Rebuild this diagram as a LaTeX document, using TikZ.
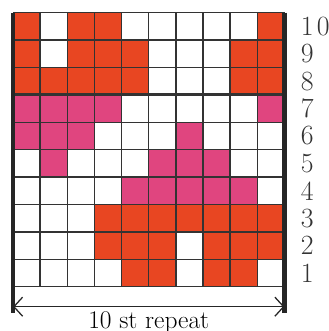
\documentclass[tikz,border=0pt]{standalone}
\usepackage{tikz}
\usepackage{xcolor}
\usetikzlibrary{arrows.meta,positioning}
\definecolor{knitred}{HTML}{E84622}
\definecolor{knitpink}{HTML}{E0457F}
\definecolor{gridgray}{HTML}{333333}

\begin{document}
\begin{tikzpicture}[
      x=0.6cm,y=0.6055cm,
      >={Straight Barb[length=5.5pt,width=12pt]},
      redcell/.style={fill=knitred},
      pinkcell/.style={fill=knitpink},
      gridline/.style={draw=gridgray,line width=0.9pt},
      edgebar/.style={draw=black!85,line width=2.6pt},
      rownum/.style={anchor=west,font=\fontsize{17.5}{19}\selectfont,text=black!80},
      label/.style={font=\fontsize{16}{18}\selectfont,align=center}
    ]
    \useasboundingbox (-0.479,-1.617) rectangle (11.639,10.464);

    \foreach \r/\cols in {10/{1,3,4,10},9/{1,3,4,5,9,10},8/{1,2,3,4,5,9,10},
                          3/{4,5,6,7,8,9,10},2/{4,5,6,8,9,10},1/{5,6,8,9}}
      \foreach \c in \cols
        \fill[redcell] (\c-1,\r-1) rectangle ++(1,1);
    \foreach \r/\cols in {7/{1,2,3,4,10},6/{1,2,3,7},5/{2,6,7,8},4/{5,6,7,8,9}}
      \foreach \c in \cols
        \fill[pinkcell] (\c-1,\r-1) rectangle ++(1,1);

    \draw[gridline] (0,0) grid[xstep=0.6cm,ystep=0.6055cm] (10,10);
    \draw[gridline,line width=1.8pt] (0,7) -- (10,7);
    \draw[edgebar] (0,10) -- (0,-0.96);
    \draw[edgebar] (10,10) -- (10,-0.96);

    \foreach \r in {1,...,9}
      \node[rownum] (row\r) at (10.4,\r-0.5) {\r};
    \node[rownum] (row10) at (10.4,9.5) {1\kern2pt0};

    \coordinate (repL) at (0,-0.73);
    \coordinate (repR) at (10,-0.73);
    \draw[<->,line width=0.8pt,black!85] (repL) -- (repR);
    \node[label] (repeat) at (5,-1.3) {10 st repeat};
  \end{tikzpicture}
\end{document}
